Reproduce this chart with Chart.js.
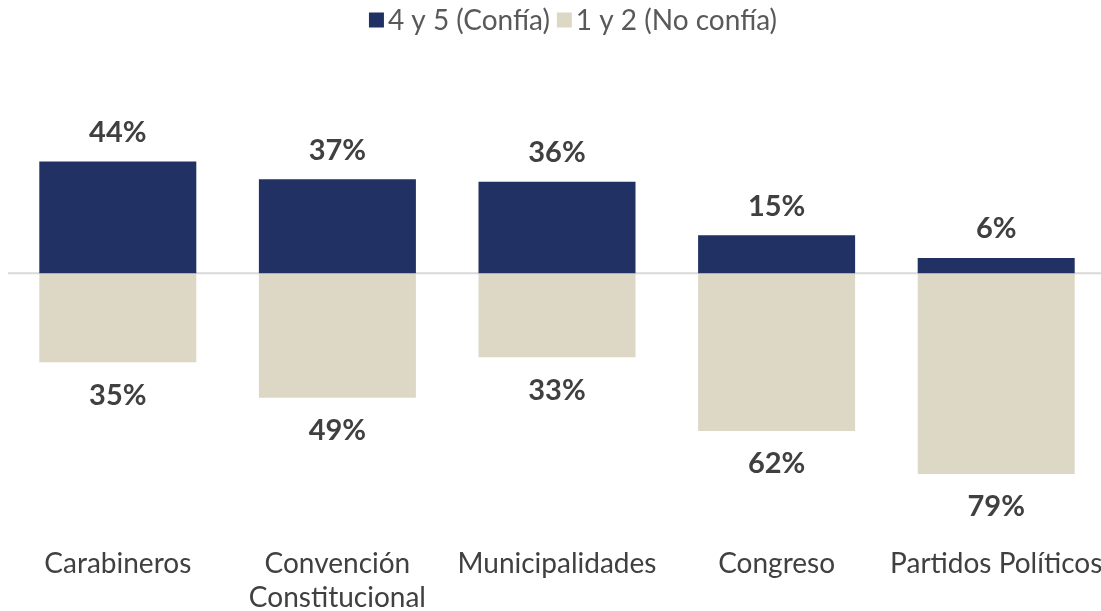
<!DOCTYPE html>
<html>
<head>
<meta charset="utf-8">
<script src="https://cdn.jsdelivr.net/npm/chart.js@4"></script>
<style>
  html, body { margin: 0; padding: 0; background: #fff; overflow: hidden; }
  #wrap { position: absolute; left: 0; top: 0; width: 1106px; height: 629px; }
</style>
</head>
<body>
<div id="wrap"><canvas id="chart"></canvas></div>
<script>
const categories = [["Carabineros"], ["Convención", "Constitucional"], ["Municipalidades"], ["Congreso"], ["Partidos Políticos"]]
const confia = [44, 37, 36, 15, 6]
const noConfia = [35, 49, 33, 62, 79]

const navy = "#213163"
const beige = "#ddd8c6"
const textColor = "#404040"

// value labels above the navy bars and below the beige ones
const barLabels = {
  id: "barLabels",
  afterDatasetsDraw(chart) {
    const ctx = chart.ctx
    ctx.save()
    ctx.font = "bold 29px Lato"
    ctx.fillStyle = textColor
    ctx.textAlign = "center"
    ctx.textBaseline = "middle"
    chart.data.datasets.forEach((ds, i) => {
      chart.getDatasetMeta(i).data.forEach((bar, j) => {
        const v = ds.data[j]
        const y = v >= 0 ? bar.y - 29 : bar.y + 33
        ctx.fillText(Math.abs(v) + "%", bar.x, y)
      })
    })
    ctx.restore()
  }
}

// thin grey line at zero
const zeroLine = {
  id: "zeroLine",
  beforeDatasetsDraw(chart) {
    const { ctx, chartArea, scales } = chart
    const y = scales.y.getPixelForValue(0)
    ctx.save()
    ctx.strokeStyle = "#d9d9d9"
    ctx.lineWidth = 2
    ctx.beginPath()
    ctx.moveTo(chartArea.left, y)
    ctx.lineTo(chartArea.right, y)
    ctx.stroke()
    ctx.restore()
  }
}

// legend drawn by hand so the box/text gaps match
const topLegend = {
  id: "topLegend",
  afterDraw(chart) {
    const ctx = chart.ctx
    ctx.save()
    ctx.font = "28px Lato"
    ctx.textBaseline = "middle"
    const items = chart.data.datasets.map(ds => ({ text: ds.label, color: ds.backgroundColor, w: ctx.measureText(ds.label).width }))
    const box = 15, gapText = 4, gapItem = 7
    const total = items.reduce((s, it) => s + box + gapText + it.w, 0) + gapItem * (items.length - 1)
    let x = 573 - total / 2
    const y = 20
    items.forEach(it => {
      ctx.fillStyle = it.color
      ctx.fillRect(x, y - box / 2, box, box)
      x += box + gapText
      ctx.fillStyle = "#595959"
      ctx.fillText(it.text, x, y + 1)
      x += it.w + gapItem
    })
    ctx.restore()
  }
}

new Chart(document.getElementById("chart"), {
  type: "bar",
  data: {
    labels: categories,
    datasets: [
      {
        label: "4 y 5 (Confía)",
        data: confia,
        backgroundColor: navy,
        barPercentage: 0.715,
        categoryPercentage: 1
      },
      {
        label: "1 y 2 (No confía)",
        data: noConfia.map(v => -v),
        backgroundColor: beige,
        barPercentage: 0.715,
        categoryPercentage: 1
      }
    ]
  },
  options: {
    responsive: true,
    maintainAspectRatio: false,
    animation: false,
    layout: { padding: { left: 8, right: 0, top: 42, bottom: 0 } },
    plugins: {
      legend: { display: false },
      tooltip: { enabled: false }
    },
    scales: {
      x: {
        stacked: true,
        grid: { display: false },
        border: { display: false },
        afterFit(scale) {
          scale.paddingLeft = 0
          scale.paddingRight = 0
        },
        ticks: {
          color: textColor,
          padding: 15,
          maxRotation: 0,
          autoSkip: false,
          font: { family: "Lato", size: 28, lineHeight: 1.18 }
        }
      },
      y: {
        stacked: true,
        display: false,
        min: -99,
        max: 91
      }
    }
  },
  plugins: [barLabels, zeroLine, topLegend]
})
</script>
</body>
</html>
